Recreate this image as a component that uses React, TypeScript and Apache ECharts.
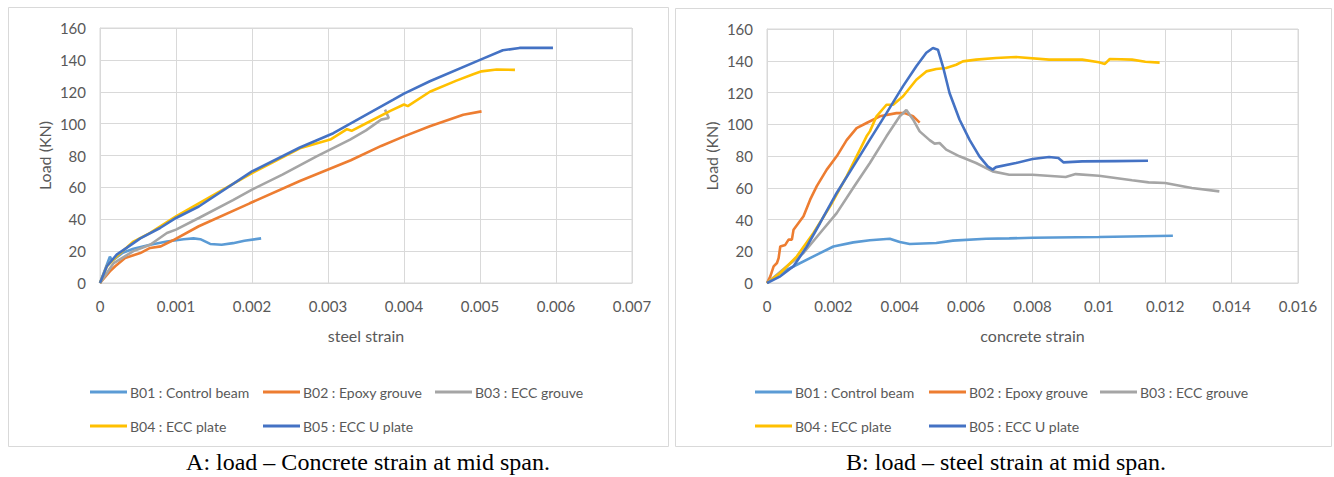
import React, { useEffect, useRef } from "react";
import * as echarts from "echarts";

const seriesNames = [
  "B01 : Control beam",
  "B02 : Epoxy grouve",
  "B03 : ECC grouve",
  "B04 : ECC plate",
  "B05 : ECC U plate",
];
const seriesColors = ["#5b9bd5", "#ed7d31", "#a5a5a5", "#ffc000", "#4472c4"];

// Chart A: load vs steel strain
const steelB01 = [[0, 0], [0.00013, 16.5], [0.00016, 14], [0.0003, 19], [0.00044, 21.5], [0.00066, 24], [0.00088, 26], [0.0011, 27.5], [0.00123, 28], [0.00132, 27.5], [0.00145, 24.5], [0.0016, 24], [0.00175, 25], [0.0019, 26.5], [0.00212, 28]];
const steelB02 = [[0, 0], [0.00013, 7.3], [0.0002, 10.5], [0.00033, 15.7], [0.00053, 18.8], [0.00066, 22], [0.0008, 23], [0.00096, 26.8], [0.0013, 35.6], [0.00197, 50], [0.00263, 64], [0.0033, 77], [0.0037, 86], [0.004, 92], [0.00434, 98.3], [0.00478, 105.6], [0.00502, 107.7]];
const steelB03 = [[0, 0], [0.00018, 12.5], [0.00044, 20], [0.00066, 24], [0.00088, 31.4], [0.001, 33.5], [0.0013, 40.8], [0.00175, 52], [0.002, 58.6], [0.0024, 68], [0.00285, 79.5], [0.00329, 90], [0.0035, 95.8], [0.0037, 102.5], [0.0038, 103.5], [0.00375, 108.8]];
const steelB04 = [[0, 0], [0.00009, 10.5], [0.00022, 16.7], [0.00044, 26], [0.00066, 31.4], [0.001, 41.8], [0.0013, 50], [0.002, 69], [0.00263, 84.5], [0.00303, 90], [0.00325, 96.5], [0.00331, 95.5], [0.00351, 100.4], [0.00382, 108], [0.004, 112], [0.00405, 111], [0.00434, 120], [0.00469, 127], [0.00491, 131], [0.00502, 132.8], [0.00522, 134], [0.00546, 133.7]];
const steelB05 = [[0, 0], [0.00009, 10.5], [0.00022, 17.8], [0.00035, 22], [0.00053, 28], [0.00079, 34.5], [0.001, 40.8], [0.0013, 48], [0.002, 70], [0.00263, 85], [0.00307, 94], [0.0035, 105.5], [0.00386, 115], [0.004, 118.8], [0.00434, 126.6], [0.005, 140], [0.0053, 146], [0.00552, 147.5], [0.00596, 147.5]];

// Chart B: load vs concrete strain
const concB01 = [[0, 0], [0.0004, 6.3], [0.0009, 11.5], [0.0014, 16.8], [0.002, 23], [0.0026, 25.6], [0.0031, 26.9], [0.0037, 27.9], [0.004, 25.8], [0.0043, 24.6], [0.0051, 25.2], [0.0056, 26.7], [0.0066, 27.9], [0.0073, 28.1], [0.008, 28.5], [0.01, 29], [0.01223, 29.8]];
const concB02 = [[0, 0], [0.0001, 4.2], [0.0002, 10.5], [0.0003, 12.6], [0.00035, 15.7], [0.0004, 23], [0.00055, 24], [0.00065, 27.3], [0.00075, 27.3], [0.0008, 33.6], [0.00095, 37.8], [0.0011, 42], [0.0013, 52.5], [0.0015, 61], [0.0018, 71.4], [0.0021, 79.8], [0.0024, 90], [0.0027, 97.6], [0.003, 100.8], [0.0034, 105], [0.0039, 107], [0.00415, 107], [0.0044, 105], [0.0046, 101]];
const concB03 = [[0, 0], [0.0006, 10.5], [0.0011, 18.9], [0.0016, 31.5], [0.0021, 44], [0.0026, 60], [0.0031, 75.6], [0.0036, 92.4], [0.004, 105], [0.0042, 109], [0.0044, 103], [0.0046, 95.5], [0.0049, 90], [0.00505, 87.8], [0.0052, 88.2], [0.0054, 84], [0.0058, 79.8], [0.0063, 75.6], [0.0068, 70.3], [0.0073, 68.2], [0.008, 68.2], [0.009, 66.8], [0.0093, 68.6], [0.01, 67.6], [0.011, 64.7], [0.0115, 63.4], [0.012, 63], [0.0128, 59.8], [0.01363, 57.7]];
const concB04 = [[0, 0], [0.0004, 6.3], [0.0009, 16.8], [0.0014, 31.5], [0.0019, 48.3], [0.0024, 67.2], [0.0027, 79.8], [0.003, 92.4], [0.0031, 95.5], [0.0033, 105], [0.0036, 112.3], [0.0038, 112.3], [0.0041, 117.6], [0.0045, 128], [0.0048, 133.3], [0.0051, 134.8], [0.0054, 135.4], [0.0057, 137.5], [0.0059, 139.6], [0.0063, 140.7], [0.0069, 141.7], [0.0075, 142.4], [0.0085, 140.7], [0.0095, 140.7], [0.01, 139], [0.01018, 138], [0.01033, 141.1], [0.011, 140.7], [0.0114, 139.4], [0.01183, 138.8]];
const concB05 = [[0, 0], [0.0004, 4.2], [0.0008, 10.5], [0.0012, 23], [0.0016, 37.8], [0.0021, 56.7], [0.0026, 73.5], [0.0031, 90.3], [0.0036, 107], [0.0041, 124], [0.0045, 136.5], [0.0048, 145], [0.005, 148], [0.00515, 147], [0.0053, 136.5], [0.0055, 119.7], [0.0058, 103], [0.0061, 90.3], [0.0064, 79.8], [0.00665, 73.5], [0.0068, 71.4], [0.0069, 73], [0.0075, 75.6], [0.008, 78.1], [0.0085, 79.4], [0.00878, 78.7], [0.00893, 76], [0.0095, 76.6], [0.0105, 76.8], [0.01148, 77]];

const steelData = [steelB01, steelB02, steelB03, steelB04, steelB05];
const concData = [concB01, concB02, concB03, concB04, concB05];

const yTicks = { min: 0, max: 160, interval: 20 };
const xStrainA = { min: 0, max: 0.007, interval: 0.001 };
const xStrainB = { min: 0, max: 0.016, interval: 0.002 };

const axisTitles = { y: "Load (KN)", xA: "steel strain", xB: "concrete strain" };
const captions = ["A: load – Concrete strain at mid span.", "B: load – steel strain at mid span."];

const FONT = "Lato, 'Liberation Sans', sans-serif";
const TXT = "#595959";
const GRID = "#d9d9d9";

const fmt = (v: number) => (v === 0 ? "0" : String(+v.toFixed(3)));

export default function App() {
  const ref = useRef<HTMLDivElement>(null);
  useEffect(() => {
    if (!ref.current) return;
    const chart = echarts.init(ref.current, null, { renderer: "svg" });

    const mkX = (gi: number, r: any, name: string) => ({
      type: "value",
      gridIndex: gi,
      min: r.min,
      max: r.max,
      interval: r.interval,
      name,
      nameLocation: "middle",
      nameGap: 44,
      nameTextStyle: { color: TXT, fontSize: 16, fontFamily: FONT },
      axisLine: { show: true, lineStyle: { color: GRID } },
      axisTick: { show: false },
      axisLabel: { color: TXT, fontSize: 15, fontFamily: FONT, margin: 15, formatter: fmt },
      splitLine: { show: true, lineStyle: { color: GRID, width: 1 } },
    });
    const mkY = (gi: number) => ({
      type: "value",
      gridIndex: gi,
      min: yTicks.min,
      max: yTicks.max,
      interval: yTicks.interval,
      name: axisTitles.y,
      nameLocation: "middle",
      nameRotate: 90,
      nameGap: 48,
      nameTextStyle: { color: TXT, fontSize: 16, fontFamily: FONT },
      axisLine: { show: true, lineStyle: { color: GRID } },
      axisTick: { show: false },
      axisLabel: { color: TXT, fontSize: 15, fontFamily: FONT, margin: 14 },
      splitLine: { show: true, lineStyle: { color: GRID, width: 1 } },
    });

    const series: any[] = [];
    [steelData, concData].forEach((set, gi) => {
      set.forEach((d, i) => {
        series.push({
          type: "line",
          name: seriesNames[i],
          xAxisIndex: gi,
          yAxisIndex: gi,
          data: d,
          symbol: "none",
          showSymbol: false,
          lineStyle: { color: seriesColors[i], width: 2.6 },
          itemStyle: { color: seriesColors[i] },
          z: 2 + (i === 4 ? 1 : 0),
        });
      });
    });

    const legendPos = [
      [[85, 380], [258, 380], [430, 380], [85, 414], [258, 414]],
      [[750, 380], [924, 380], [1095, 380], [750, 414], [924, 414]],
    ];
    const legends: any[] = [];
    legendPos.forEach((row) =>
      row.forEach((p, i) => {
        legends.push({
          data: [seriesNames[i]],
          left: p[0],
          top: p[1],
          icon: "rect",
          itemWidth: 37,
          itemHeight: 3,
          itemGap: 3,
          selectedMode: false,
          textStyle: { color: TXT, fontSize: 14, fontFamily: FONT, padding: [0, 0, 0, -2] },
        });
      })
    );

    const capFont = "24px 'Liberation Serif', serif";
    chart.setOption({
      animation: false,
      backgroundColor: "#fff",
      grid: [
        { left: 100, top: 28, width: 532, height: 255, show: true, borderColor: GRID, borderWidth: 1 },
        { left: 767, top: 29, width: 531, height: 254, show: true, borderColor: GRID, borderWidth: 1 },
      ],
      xAxis: [mkX(0, xStrainA, axisTitles.xA), mkX(1, xStrainB, axisTitles.xB)],
      yAxis: [mkY(0), mkY(1)],
      legend: legends,
      series,
      graphic: [
        { type: "rect", shape: { x: 8.5, y: 7.5, width: 660, height: 439 }, style: { fill: "none", stroke: GRID, lineWidth: 1 }, silent: true },
        { type: "rect", shape: { x: 675.5, y: 8.5, width: 656, height: 438 }, style: { fill: "none", stroke: GRID, lineWidth: 1 }, silent: true },
        { type: "text", x: 368, y: 462, style: { text: captions[0], fill: "#000", font: capFont, align: "center", verticalAlign: "middle" }, silent: true },
        { type: "text", x: 1006, y: 462, style: { text: captions[1], fill: "#000", font: capFont, align: "center", verticalAlign: "middle" }, silent: true },
      ],
    });
    return () => chart.dispose();
  }, []);
  return <div ref={ref} style={{ position: "absolute", left: 0, top: 0, width: 1334, height: 477 }} />;
}
